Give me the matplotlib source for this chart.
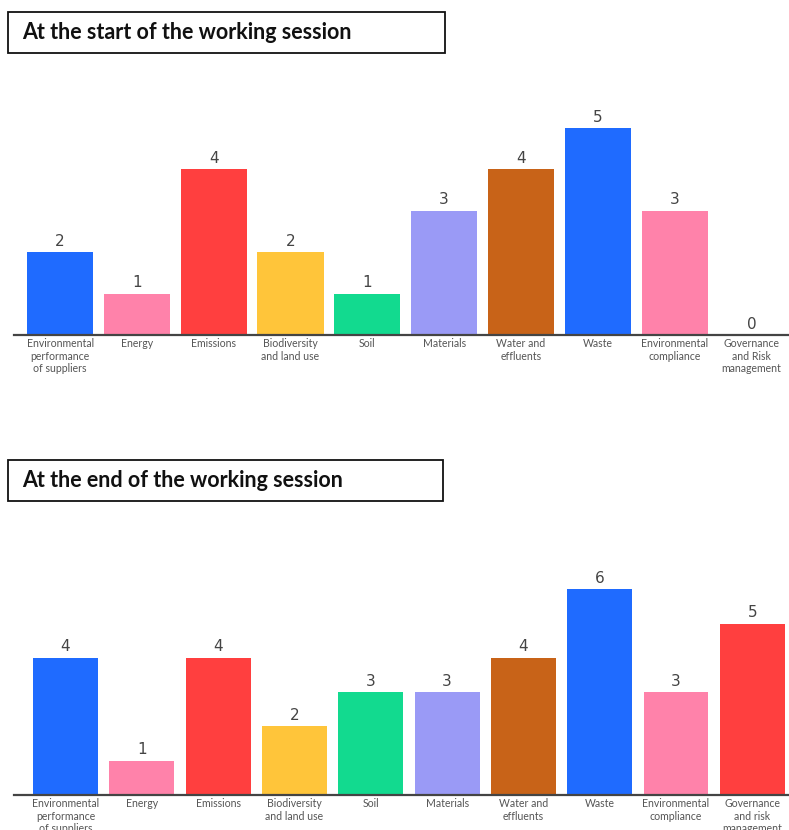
import matplotlib
matplotlib.use("Agg")
import matplotlib.pyplot as plt
from matplotlib.patches import Rectangle

plt.rcParams['font.family'] = ['Lato', 'DejaVu Sans']

# data
labels_start = ["Environmental\nperformance\nof suppliers", "Energy", "Emissions",
                "Biodiversity\nand land use", "Soil", "Materials", "Water and\neffluents",
                "Waste", "Environmental\ncompliance", "Governance\nand Risk\nmanagement"]
labels_end = ["Environmental\nperformance\nof suppliers", "Energy", "Emissions",
              "Biodiversity\nand land use", "Soil", "Materials", "Water and\neffluents",
              "Waste", "Environmental\ncompliance", "Governance\nand risk\nmanagement"]
values_start = [2, 1, 4, 2, 1, 3, 4, 5, 3, 0]
values_end = [4, 1, 4, 2, 3, 3, 4, 6, 3, 5]
colors = ["#1F6BFF", "#FF82AA", "#FF3F3F", "#FFC53A", "#12DA8F",
          "#9A9AF6", "#C86318", "#1F6BFF", "#FF82AA", "#FF3F3F"]

W, H = 789, 830


def px_axes(fig, left, right, top, bottom):
    return fig.add_axes([left / W, 1 - bottom / H, (right - left) / W, (bottom - top) / H])


def draw_bars(ax, labels, values, width, xlim, ylim):
    x = range(len(values))
    bars = ax.bar(x, values, width=width, color=colors, zorder=2)
    for b, v in zip(bars, values):
        ax.annotate(str(v), (b.get_x() + b.get_width() / 2, v), xytext=(0, 2.5),
                    textcoords="offset points", ha="center", va="bottom",
                    fontsize=11, color="#444444", family="DejaVu Sans")
    ax.set_xlim(*xlim)
    ax.set_ylim(*ylim)
    ax.set_xticks(list(x))
    ax.set_xticklabels(labels, fontsize=7.6, color="#555555", linespacing=1.12)
    ax.tick_params(axis="x", length=0, pad=2.5)
    ax.set_yticks([])
    for s in ["top", "right", "left"]:
        ax.spines[s].set_visible(False)
    ax.spines["bottom"].set_color("#444444")
    ax.spines["bottom"].set_linewidth(1.6)


def title_box(fig, text, left, right, top, bottom):
    fig.patches.append(Rectangle((left / W, 1 - bottom / H), (right - left) / W,
                                 (bottom - top) / H, transform=fig.transFigure,
                                 facecolor="white", edgecolor="#111111", linewidth=1.3))
    fig.text((left + 14) / W, 1 - (top + bottom) / 2 / H, text, fontsize=15.5,
             fontweight="bold", color="#111111", va="center", ha="left")


fig = plt.figure(figsize=(W / 100, H / 100), dpi=100)

ax1 = px_axes(fig, 14, 789, 86.6, 335)
draw_bars(ax1, labels_start, values_start, 0.86, (-0.6, 9.49), (0, 6))

ax2 = px_axes(fig, 14, 789, 555, 795)
draw_bars(ax2, labels_end, values_end, 0.85, (-0.675, 9.48), (0, 7))

title_box(fig, "At the start of the working session", 8, 445, 12, 53)
title_box(fig, "At the end of the working session", 8, 443, 460, 501)

fig.savefig("out.png", dpi=100)
